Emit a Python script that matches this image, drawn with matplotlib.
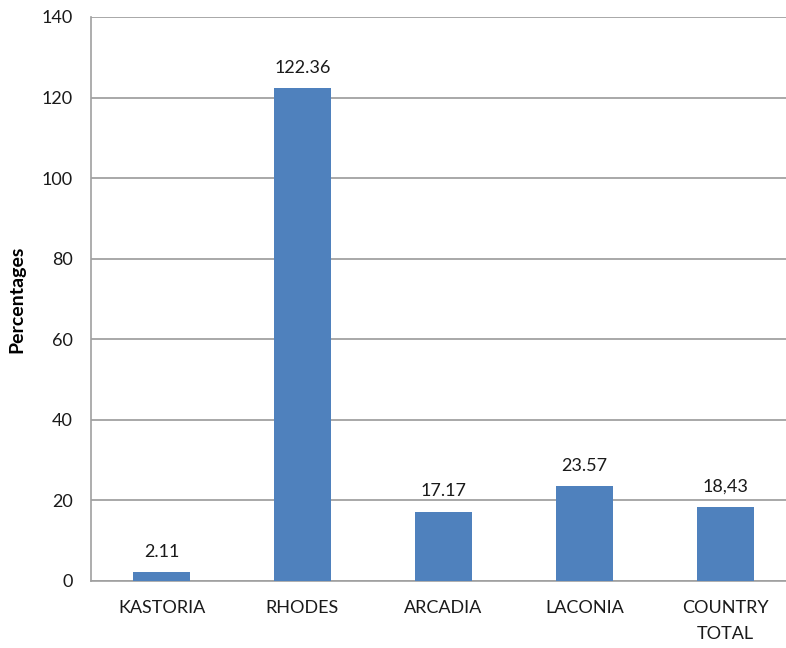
import numpy as np
import matplotlib.pyplot as plt

regions = ["KASTORIA", "RHODES", "ARCADIA", "LACONIA", "COUNTRY\nTOTAL"]
values = [2.11, 122.36, 17.17, 23.57, 18.43]
value_labels = ["2.11", "122.36", "17.17", "23.57", "18,43"]
yticks = [0, 20, 40, 60, 80, 100, 120, 140]

plt.rcParams['font.family'] = ['Lato', 'DejaVu Sans']

fig = plt.figure(figsize=(7.86, 6.48), dpi=100)
ax = fig.add_axes([0.1158, 0.1034, 0.8842, 0.8704])

x = np.arange(len(regions))
bars = ax.bar(x, values, width=0.40, color='#4f81bd', zorder=3)

for b, lab in zip(bars, value_labels):
    ax.annotate(lab, (b.get_x() + b.get_width() / 2, b.get_height()),
                xytext=(0, 9), textcoords='offset points',
                ha='center', va='bottom', fontsize=13, color='#1a1a1a')

ax.set_xlim(-0.5, 4.43)
ax.set_ylim(0, 140)
ax.set_yticks(yticks)
ax.set_xticks(x)
ax.set_xticklabels(regions, fontsize=13, color='#1a1a1a', linespacing=1.75)
ax.tick_params(axis='y', labelsize=13, labelcolor='#1a1a1a', length=0, pad=13)
ax.tick_params(axis='x', length=0, pad=14)

ax.grid(axis='y', color='#9a9a9a', linewidth=1.2, zorder=0)
for s in ['top', 'right']:
    ax.spines[s].set_visible(False)
ax.spines['left'].set_color('#a0a0a0')
ax.spines['bottom'].set_color('#a0a0a0')
ax.spines['left'].set_linewidth(1.2)
ax.spines['bottom'].set_linewidth(1.2)

ax.set_ylabel("Percentages", fontsize=14, fontweight='bold')
ax.yaxis.set_label_coords(-0.094, 0.5)

fig.savefig("out.png", dpi=100)
